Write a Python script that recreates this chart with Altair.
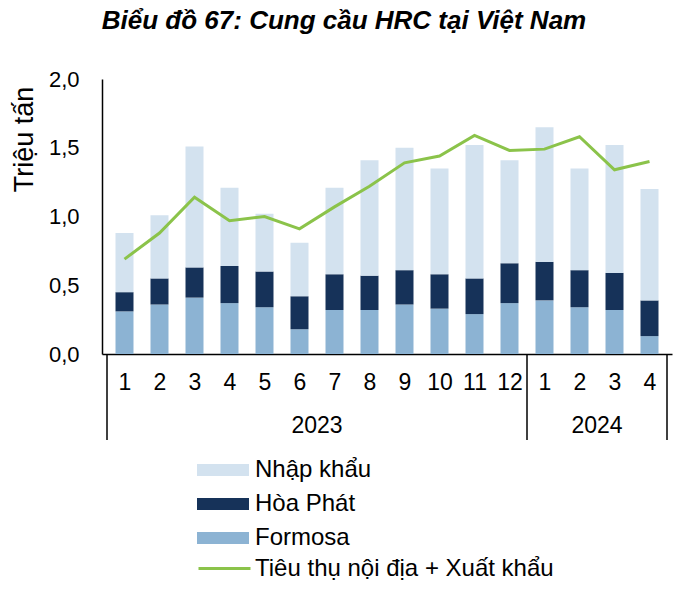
import altair as alt
import pandas as pd

months = ["1", "2", "3", "4", "5", "6", "7", "8", "9", "10", "11", "12", "1", "2", "3", "4"]
years = ["2023"] * 12 + ["2024"] * 4

formosa = [0.31, 0.36, 0.41, 0.37, 0.34, 0.18, 0.32, 0.32, 0.36, 0.33, 0.29, 0.37, 0.39, 0.34, 0.32, 0.13]
hoa_phat = [0.14, 0.19, 0.22, 0.27, 0.26, 0.24, 0.26, 0.25, 0.25, 0.25, 0.26, 0.29, 0.28, 0.27, 0.27, 0.26]
nhap_khau = [0.43, 0.46, 0.88, 0.57, 0.42, 0.39, 0.63, 0.84, 0.89, 0.77, 0.97, 0.75, 0.98, 0.74, 0.93, 0.81]
tieu_thu = [0.69, 0.88, 1.14, 0.97, 1.00, 0.91, 1.07, 1.22, 1.39, 1.44, 1.59, 1.48, 1.49, 1.58, 1.34, 1.40]

bar_series = ["Nhập khẩu", "Hòa Phát", "Formosa"]
bar_colors = ["#D3E2EF", "#163259", "#8CB3D3"]
line_name = "Tiêu thụ nội địa + Xuất khẩu"
line_color = "#8BC34A"

year_names = ["2023", "2024"]
year_centers = [6, 14]      # middle of each year group (in month slots)
separators = [0, 12, 16]    # group boundaries (in month slots)

FONT = "Liberation Sans"

rows = []
for i in range(len(months)):
    for name, vals, order in [("Formosa", formosa, 0), ("Hòa Phát", hoa_phat, 1), ("Nhập khẩu", nhap_khau, 2)]:
        rows.append({"pos": i + 0.5, "series": name, "value": vals[i], "ord": order})
bars_df = pd.DataFrame(rows)
line_df = pd.DataFrame({"pos": [i + 0.5 for i in range(len(months))], "value": tieu_thu, "series": line_name})
year_df = pd.DataFrame({"x": year_centers, "year": year_names})
sep_df = pd.DataFrame({"x": separators})

x_scale = alt.Scale(domain=[0, 16], nice=False, zero=False)
y_scale = alt.Scale(domain=[0, 2], nice=False)

label_arr = "[" + ",".join("'%s'" % m for m in months) + "]"

x_axis = alt.Axis(
    title=None, values=[i + 0.5 for i in range(len(months))],
    labelExpr=label_arr + "[floor(datum.value)]",
    ticks=False, tickSize=0, grid=False, labelPadding=17, labelFontSize=23,
    labelFont=FONT, labelColor="black", domainColor="black", domainWidth=1.5,
    labelAngle=0, labelOverlap=False, labelFlush=False, labelBound=False,
)
y_axis = alt.Axis(
    title="Triệu tấn", values=[0, 0.5, 1.0, 1.5, 2.0],
    labelExpr="replace(format(datum.value, '.1f'), '.', ',')",
    ticks=False, tickSize=0, grid=False, labelPadding=23, labelFontSize=22,
    labelFont=FONT, labelColor="black", domainColor="black", domainWidth=1.5,
    titleFont=FONT, titleFontSize=27, titleFontWeight="normal", titleColor="black",
    titleAngle=-90, titleX=-70, titleY=60, titleAlign="center", titleBaseline="alphabetic",
)

bars = alt.Chart(bars_df).mark_bar(width=18).encode(
    x=alt.X("pos:Q", scale=x_scale, axis=x_axis),
    y=alt.Y("sum(value):Q", scale=y_scale, axis=y_axis, stack="zero"),
    color=alt.Color(
        "series:N",
        scale=alt.Scale(domain=bar_series, range=bar_colors),
        legend=alt.Legend(
            title=None, orient="none", legendX=108, legendY=378,
            symbolType="M-2,-0.46H2V0.46H-2Z", symbolSize=676, symbolStrokeWidth=0,
            labelFontSize=24, labelFont=FONT, labelColor="black", labelOffset=19,
            rowPadding=9, symbolOpacity=1, labelLimit=400,
        ),
    ),
    order=alt.Order("ord:Q", sort="ascending"),
)

line = alt.Chart(line_df).mark_line(strokeWidth=3).encode(
    x=alt.X("pos:Q", scale=x_scale, axis=x_axis),
    y=alt.Y("value:Q", scale=y_scale, axis=y_axis),
    stroke=alt.Stroke(
        "series:N",
        scale=alt.Scale(domain=[line_name], range=[line_color]),
        legend=alt.Legend(
            title=None, orient="none", legendX=108, legendY=475,
            symbolType="M-2,0H2", symbolSize=676, symbolStrokeWidth=3,
            labelFontSize=24, labelFont=FONT, labelColor="black", labelOffset=16,
            labelLimit=400,
        ),
    ),
)

seps = alt.Chart(sep_df).mark_rule(color="black", strokeWidth=1.5).encode(
    x=alt.X("x:Q", scale=x_scale, axis=x_axis),
    y=alt.value(275),
    y2=alt.value(361),
)

year_text = alt.Chart(year_df).mark_text(
    fontSize=23, font=FONT, color="black", baseline="alphabetic", align="center"
).encode(
    x=alt.X("x:Q", scale=x_scale, axis=x_axis),
    y=alt.value(354),
    text="year:N",
)

chart = alt.layer(bars, line, seps, year_text).resolve_scale(
    color="independent", stroke="independent"
).properties(
    width=570, height=275,
    title=alt.Title(
        "Biểu đồ 67: Cung cầu HRC tại Việt Nam",
        font=FONT, fontSize=26, fontWeight="bold", fontStyle="italic", color="black",
        anchor="middle", frame="group", dx=-43, offset=13, baseline="alphabetic",
    ),
    autosize=alt.AutoSizeParams(type="none"),
    padding={"left": 102, "top": 79, "right": 18, "bottom": 236},
).configure_view(stroke=None).configure_axis(labelOverlap=False)

chart.save("out.html", embed_options={"renderer": "svg", "actions": False})
